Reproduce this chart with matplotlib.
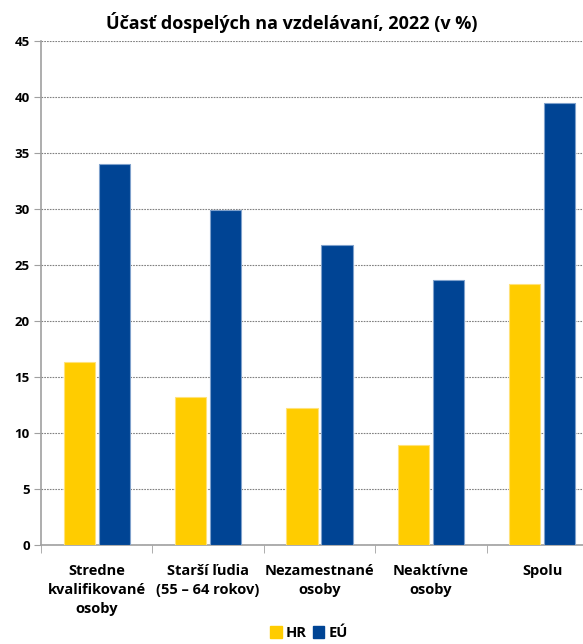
import numpy as np
import matplotlib.pyplot as plt
from matplotlib.patches import Patch

# Data
categories = ['Stredne\nkvalifikované\nosoby', 'Starší ľudia\n(55 – 64 rokov)',
              'Nezamestnané\nosoby', 'Neaktívne\nosoby', 'Spolu']
hr_values = [16.3, 13.2, 12.2, 8.9, 23.3]
eu_values = [34.0, 29.9, 26.8, 23.7, 39.5]
yticks = [0, 5, 10, 15, 20, 25, 30, 35, 40, 45]

plt.rcParams['font.family'] = ['Open Sans', 'DejaVu Sans']

fig = plt.figure(figsize=(5.83, 6.44), dpi=100)
ax = fig.add_axes([0.0703, 0.1537, 0.9297, 0.7826])

x = np.arange(len(categories))
w = 0.28
off = 0.157
ax.bar(x - off, hr_values, w, color='#FFCC00', edgecolor='#FFE27A', linewidth=0.8, zorder=3, label='HR')
ax.bar(x + off, eu_values, w, color='#004494', edgecolor='#7FA1CC', linewidth=0.8, zorder=3, label='EÚ')

ax.set_yticks(yticks)
ax.set_yticklabels([str(t) for t in yticks], fontsize=9.5, fontweight='bold')
ax.yaxis.grid(True, linestyle=(0, (1.5, 1)), color='#808080', linewidth=0.8, zorder=0)

# category labels centered, ticks on boundaries
ax.set_xticks(x)
ax.set_xticklabels(categories, fontsize=10.5, fontweight='bold', linespacing=1.45)
ax.tick_params(axis='x', length=0, pad=14)
ax.set_xticks(np.arange(-0.5, 4.6, 1), minor=True)
ax.tick_params(axis='x', which='minor', length=6, color='#A0A0A0')
ax.tick_params(axis='y', length=5, color='#A0A0A0', pad=3)
ax.set_ylim(0, 45)
ax.set_xlim(-0.5, 4.365)

for s in ['top', 'right']:
    ax.spines[s].set_visible(False)
ax.spines['left'].set_color('#A0A0A0')
ax.spines['bottom'].set_color('#A0A0A0')
ax.spines['left'].set_linewidth(1.2)
ax.spines['bottom'].set_linewidth(1.2)

fig.text(0.5, 0.965, 'Účasť dospelých na vzdelávaní, 2022 (v %)', ha='center', va='center',
         fontsize=13, fontweight='bold')

handles = [Patch(color='#FFCC00', label='HR'), Patch(color='#004494', label='EÚ')]
fig.legend(handles=handles, loc='center', bbox_to_anchor=(0.53, 0.017), ncol=2, frameon=False,
           prop={'weight': 'bold', 'size': 10.5}, handlelength=0.8, handleheight=0.8,
           handletextpad=0.3, columnspacing=0.4)

fig.savefig('out.png', dpi=100)
